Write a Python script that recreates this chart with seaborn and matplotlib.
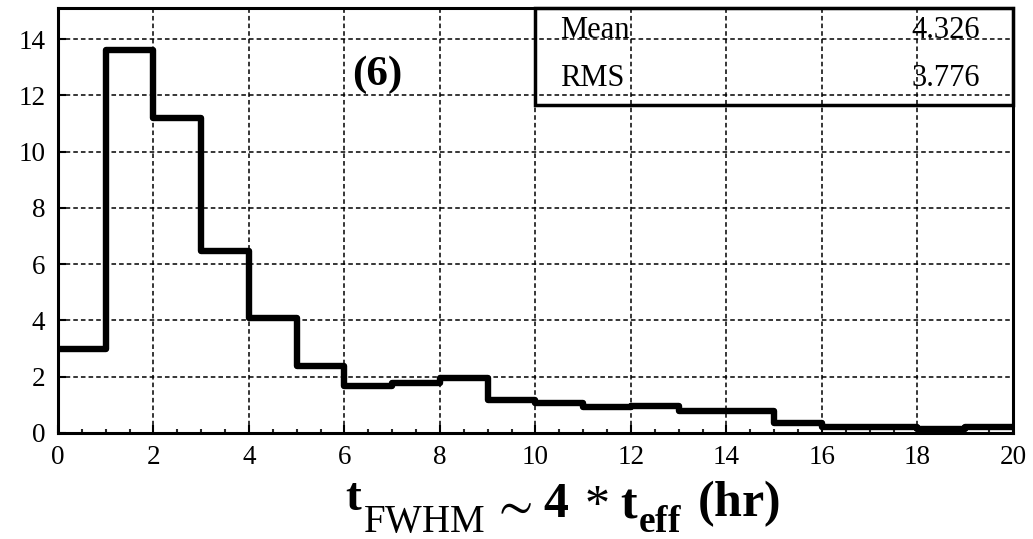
import numpy as np
import pandas as pd
import matplotlib
matplotlib.use("Agg")
import matplotlib.pyplot as plt
import seaborn as sns
from matplotlib.patches import Rectangle

# ---- data ----
bin_edges = list(range(0, 21))
bin_counts = [3.0, 13.6, 11.2, 6.45, 4.08, 2.37, 1.68, 1.77, 1.95, 1.18,
              1.08, 0.94, 0.97, 0.78, 0.78, 0.35, 0.21, 0.21, 0.15, 0.2]
x_ticks = [0, 2, 4, 6, 8, 10, 12, 14, 16, 18, 20]
y_ticks = [0, 2, 4, 6, 8, 10, 12, 14]
stat_names = ["Mean", "RMS"]
stat_values = ["4.326", "3.776"]
panel_label = "(6)"
# x label pieces (mathtext)
xlabel_pieces = [r"$\mathbf{t}$", r"$\mathrm{FWHM}$", r"$\sim$", r"$\mathbf{4}$",
                 r"$\mathrm{*}$", r"$\mathbf{t}$", r"$\mathbf{eff}$", r"$\mathbf{(hr)}$"]
# layout of the pieces: left x (px), baseline y (px from top), font size
piece_x = [345, 363, 491, 543, 584, 620, 638, 697]
piece_base = [510, 532, 519, 517, 517, 517, 532, 516]
piece_size = [34, 28, 36, 36, 36, 36, 27, 36]

sns.set_theme(style="white")
plt.rcParams['font.family'] = ['Liberation Serif', 'DejaVu Serif']
plt.rcParams['mathtext.fontset'] = 'custom'
plt.rcParams['mathtext.rm'] = 'Liberation Serif'
plt.rcParams['mathtext.bf'] = 'Liberation Serif:bold'
plt.rcParams['mathtext.it'] = 'Liberation Serif:italic'
plt.rcParams['mathtext.fallback'] = 'stix'

df = pd.DataFrame({
    "center": [(a + b) / 2 for a, b in zip(bin_edges[:-1], bin_edges[1:])],
    "count": bin_counts,
})

FW, FH = 1033, 539
fig = plt.figure(figsize=(FW / 100, FH / 100), dpi=100)
ax = fig.add_axes([0.0561, 0.1967, 0.9245, 0.7883])

sns.histplot(data=df, x="center", weights="count", bins=bin_edges,
             element="step", fill=False, color="black", linewidth=4.6, ax=ax)

ax.set_xlim(0, 20)
ax.set_ylim(0, 15.1)
ax.set_xticks(x_ticks)
ax.set_yticks(y_ticks)
ax.set_xticks(np.arange(0, 20.01, 0.5), minor=True)
ax.tick_params(axis="both", which="major", direction="in", length=6, width=1.5,
               labelsize=19.5, colors="black", pad=9)
ax.tick_params(axis="x", which="minor", direction="in", length=3, width=1.5)
ax.tick_params(axis="both", which="both", bottom=True, left=True, top=False, right=False)
ax.grid(True, which="major", color="black", linestyle=(0, (3, 2)), linewidth=1.1)
ax.set_axisbelow(True)
for s in ax.spines.values():
    s.set_color("black")
    s.set_linewidth(2.2)

ax.set_ylabel("")
ax.set_xlabel("")

# stats box
ax.add_patch(Rectangle((0.4995, 0.772), 0.5005, 0.228, transform=ax.transAxes,
                       fill=False, edgecolor="black", linewidth=2.5, clip_on=False))
ys = [0.948, 0.835]
for name, val, yy in zip(stat_names, stat_values, ys):
    ax.text(0.5257, yy, name, transform=ax.transAxes, fontsize=22,
            ha="left", va="center", color="black")
    ax.text(0.9654, yy, val, transform=ax.transAxes, fontsize=22,
            ha="right", va="center", color="black")

ax.text(0.334, 0.842, panel_label, transform=ax.transAxes, fontsize=31,
        fontweight="bold", ha="center", va="center", color="black")

# composed x label
for txt, px, pb, sz in zip(xlabel_pieces, piece_x, piece_base, piece_size):
    fig.text(px / FW, (FH - pb) / FH, txt, fontsize=sz, ha="left",
             va="baseline", color="black")

fig.savefig("out.png", dpi=100)
